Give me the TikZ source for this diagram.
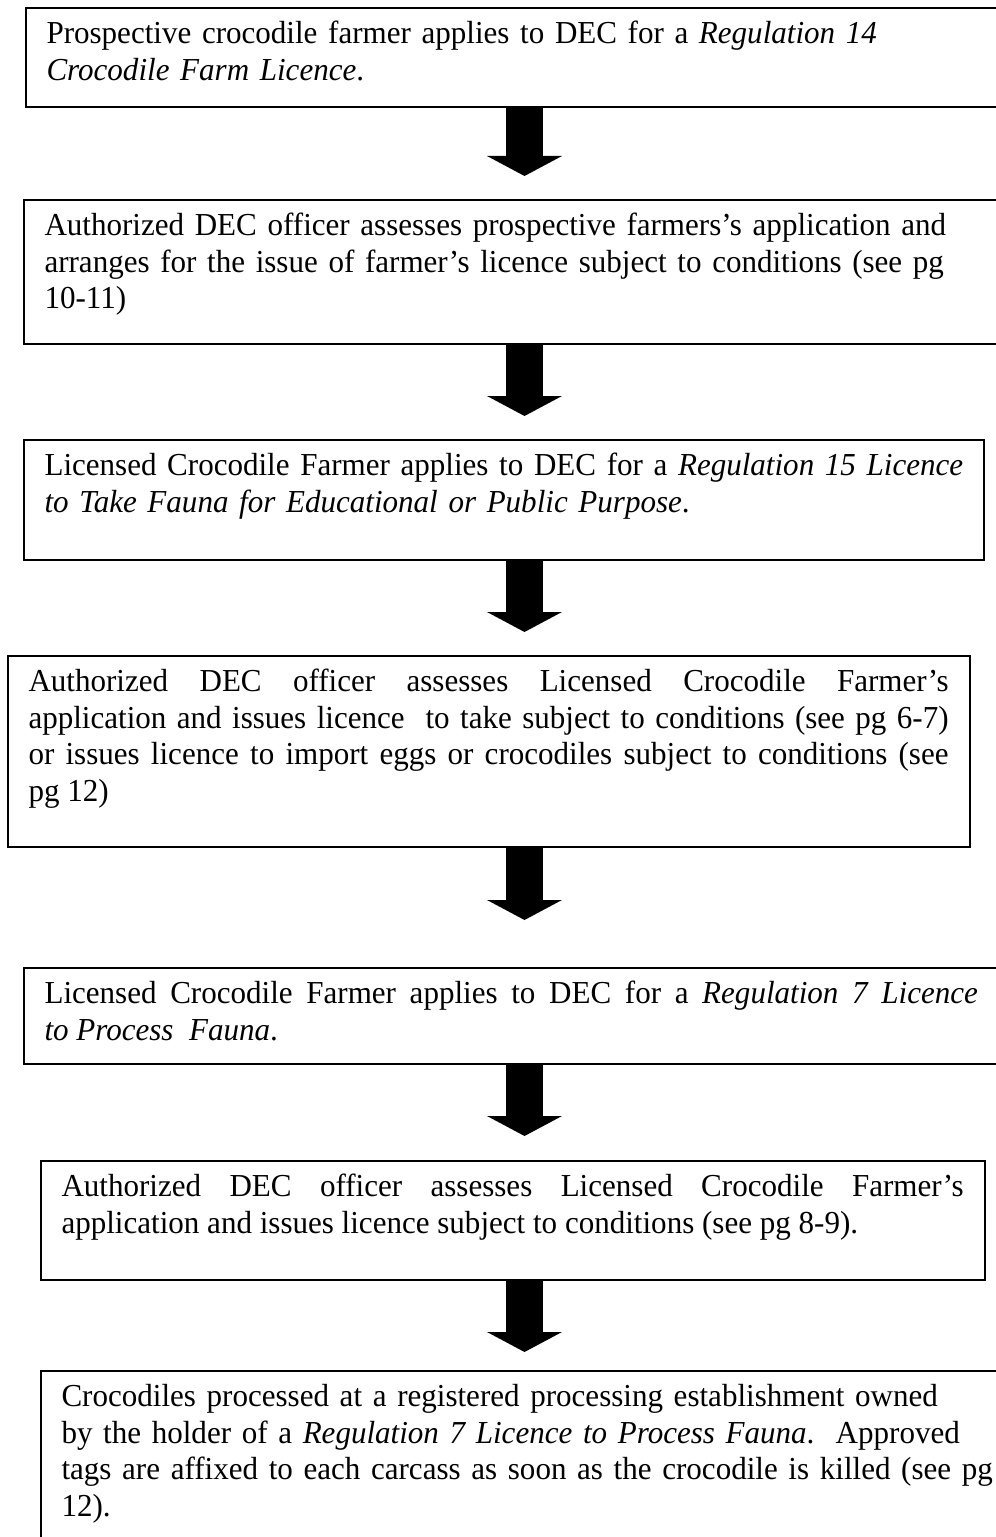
\documentclass[tikz,border=0pt]{standalone}
\usepackage{fontspec}
\setmainfont{Liberation Serif}[FakeStretch=0.97]
\usetikzlibrary{arrows.meta}
\begin{document}
\begin{tikzpicture}[x=0.375pt,y=-0.375pt,
  box/.style={draw, line width=0.75pt, rectangle, inner sep=0pt, anchor=north west},
  txt/.style={anchor=north west, inner sep=0pt, font=\fontsize{12}{13.8}\selectfont},
  rag/.style={txt, text width=362pt, align=left},
  just/.style={txt, align=justify},
  bigarrow/.style={line width=13.875pt, -{Triangle[length=7.5pt,width=28.125pt,line width=0pt]}, shorten >=8.625pt}
]
\useasboundingbox (0,0) rectangle (996,1537);
\clip (0,0) rectangle (996,1537);
\coordinate (ax) at (524.5,0);

% boxes
\node[box, minimum width=369.375pt, minimum height=37.125pt] (b1) at (25,7) {};
\node[box, minimum width=370.125pt, minimum height=54pt] (b2) at (23,199) {};
\node[box, minimum width=360pt, minimum height=45pt] (b3) at (23,439) {};
\node[box, minimum width=360.75pt, minimum height=71.625pt] (b4) at (7,655) {};
\node[box, minimum width=370.125pt, minimum height=36pt] (b5) at (23,967) {};
\node[box, minimum width=354pt, minimum height=44.625pt] (b6) at (40,1160) {};
\node[box, minimum width=363.75pt, minimum height=75pt] (b7) at (40,1370) {};

% texts
\node[rag] (t1) at ([shift={(7.875pt,-3.75pt)}]b1.north west)
  {\strut Prospective crocodile farmer applies to DEC for a \textit{Regulation 14}\\
   \textit{Crocodile Farm Licence}.};
\node[rag] (t2) at ([shift={(7.875pt,-3.75pt)}]b2.north west)
  {\strut Authorized DEC officer assesses prospective farmers’s application and\\
   arranges for the issue of farmer’s licence subject to conditions (see pg\\
   10-11)};
\node[rag] (t3) at ([shift={(7.875pt,-3.75pt)}]b3.north west)
  {\strut Licensed Crocodile Farmer applies to DEC for a \textit{Regulation 15 Licence}\\
   \textit{to Take Fauna for Educational or Public Purpose}.};
\node[just, text width=345pt] (t4) at ([shift={(7.875pt,-3.75pt)}]b4.north west)
  {\strut Authorized DEC officer assesses Licensed Crocodile Farmer’s\linebreak
   application and issues licence\ \ to take subject to conditions (see pg 6-7)\linebreak
   or issues licence to import eggs or crocodiles subject to conditions (see\linebreak
   pg 12)};
\node[just, text width=350pt] (t5) at ([shift={(7.875pt,-3.75pt)}]b5.north west)
  {\strut Licensed Crocodile Farmer applies to DEC for a \textit{Regulation 7 Licence}\linebreak
   \textit{to Process\ \ Fauna}.};
\node[just, text width=338.25pt] (t6) at ([shift={(7.875pt,-3.75pt)}]b6.north west)
  {\strut Authorized DEC officer assesses Licensed Crocodile Farmer’s\linebreak
   application and issues licence subject to conditions (see pg 8-9).};
\node[rag] (t7) at ([shift={(7.875pt,-3.75pt)}]b7.north west)
  {\strut Crocodiles processed at a registered processing establishment owned\\
   by the holder of a \textit{Regulation 7 Licence to Process Fauna}.\ \ Approved\\
   tags are affixed to each carcass as soon as the crocodile is killed (see pg\\
   12).};

% arrows
\draw[bigarrow] (b1.south -| ax) -- (b2.north -| ax);
\draw[bigarrow] (b2.south -| ax) -- (b3.north -| ax);
\draw[bigarrow] (b3.south -| ax) -- (b4.north -| ax);
\draw[bigarrow, shorten >=17.625pt] (b4.south -| ax) -- (b5.north -| ax);
\draw[bigarrow, shorten >=9pt] (b5.south -| ax) -- (b6.north -| ax);
\draw[bigarrow, shorten >=6.75pt] (b6.south -| ax) -- (b7.north -| ax);
\end{tikzpicture}
\end{document}
